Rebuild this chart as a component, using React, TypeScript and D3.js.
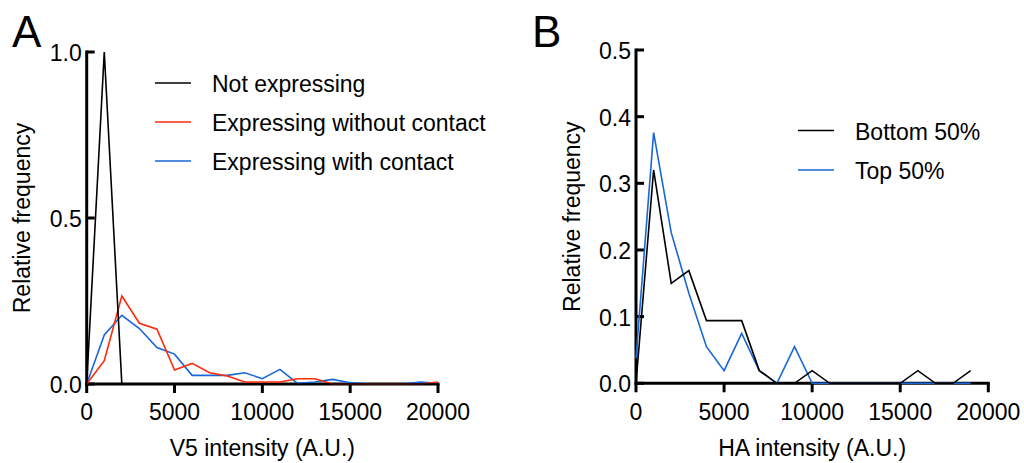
import React from 'react';
import * as d3 from 'd3';

// Panel A: V5 intensity histogram
const binsA = [0, 1000, 2000, 3000, 4000, 5000, 6000, 7000, 8000, 9000, 10000, 11000, 12000, 13000, 14000, 15000, 16000, 17000, 18000, 19000, 20000];
const notExpressing = [0, 1.0, 0, 0, 0, 0, 0, 0, 0, 0, 0, 0, 0, 0, 0, 0, 0, 0, 0, 0, 0];
const withoutContact = [0, 0.07, 0.265, 0.183, 0.165, 0.042, 0.062, 0.034, 0.024, 0.006, 0.006, 0.006, 0.016, 0.016, 0, 0, 0, 0, 0, 0, 0.006];
const withContact = [0, 0.148, 0.207, 0.167, 0.11, 0.09, 0.026, 0.026, 0.026, 0.034, 0.016, 0.044, 0.002, 0.006, 0.014, 0.004, 0, 0, 0, 0.006, 0.002];
const yTicksA = [0, 0.5, 1.0];

// Panel B: HA intensity histogram
const binsB = [0, 1000, 2000, 3000, 4000, 5000, 6000, 7000, 8000, 9000, 10000, 11000, 12000, 13000, 14000, 15000, 16000, 17000, 18000, 19000];
const bottom50 = [0, 0.32, 0.15, 0.169, 0.094, 0.094, 0.094, 0.019, 0, 0, 0.019, 0, 0, 0, 0, 0, 0.019, 0, 0, 0.019];
const top50 = [0.0375, 0.376, 0.226, 0.135, 0.055, 0.019, 0.075, 0.019, 0, 0.055, 0, 0, 0, 0, 0, 0, 0, 0, 0, 0];
const yTicksB = [0, 0.1, 0.2, 0.3, 0.4, 0.5];

const xTicks = [0, 5000, 10000, 15000, 20000];

const RED = '#ff2a0c';
const BLUE = '#1867d6';
const FONT = '"Liberation Sans", Arial, Helvetica, sans-serif';
const FS = 23;

type Series = { name: string; values: number[]; color: string };

const Panel = ({ letter, letterX, left, right, top, bottomY, yMax, yTicks, bins, series, xTitle, yLabelX, legendX, legendY, legendGap }: any) => {
  const x = d3.scaleLinear().domain([0, 20000]).range([left, right]);
  const y = d3.scaleLinear().domain([0, yMax]).range([bottomY, top]);
  const line = d3.line<number>().x((_, i) => x(bins[i])).y(d => y(d));

  return (
    <g fontFamily={FONT} fill="#000">
      <text x={letterX} y={47} fontSize={44}>{letter}</text>

      {/* axes */}
      <line x1={left} x2={left} y1={top - 1.5} y2={bottomY + 1.5} stroke="#000" strokeWidth={3} />
      <line x1={left - 1.5} x2={right + 1.5} y1={bottomY} y2={bottomY} stroke="#000" strokeWidth={3} />
      {yTicks.map((t: number) => (
        <g key={t}>
          <line x1={left} x2={left + 8} y1={y(t)} y2={y(t)} stroke="#000" strokeWidth={3} />
          <text x={left - 5} y={y(t) + 9} fontSize={FS} textAnchor="end">{t.toFixed(1)}</text>
        </g>
      ))}
      {xTicks.map(t => (
        <g key={t}>
          <line x1={x(t)} x2={x(t)} y1={bottomY} y2={bottomY + 9} stroke="#000" strokeWidth={3} />
          <text x={x(t)} y={420} fontSize={FS} textAnchor="middle">{t}</text>
        </g>
      ))}
      <text x={(left + right) / 2} y={456} fontSize={FS} textAnchor="middle">{xTitle}</text>
      <text transform={`translate(${yLabelX},${(top + bottomY) / 2}) rotate(-90)`} fontSize={FS} textAnchor="middle">Relative frequency</text>

      {/* data lines */}
      {series.map((s: Series) => (
        <path key={s.name} d={line(s.values) || ''} fill="none" stroke={s.color} strokeWidth={1.6} strokeLinejoin="miter" />
      ))}

      {/* legend */}
      {[...series].reverse().map((s: Series, i: number) => (
        <g key={s.name}>
          <line x1={legendX} x2={legendX + 36} y1={legendY + i * legendGap} y2={legendY + i * legendGap} stroke={s.color} strokeWidth={1.6} />
          <text x={legendX + 57} y={legendY + i * legendGap + 9} fontSize={FS}>{s.name}</text>
        </g>
      ))}
    </g>
  );
};

export default function App() {
  const seriesA: Series[] = [
    { name: 'Expressing with contact', values: withContact, color: BLUE },
    { name: 'Expressing without contact', values: withoutContact, color: RED },
    { name: 'Not expressing', values: notExpressing, color: '#000' },
  ];
  const seriesB: Series[] = [
    { name: 'Top 50%', values: top50, color: BLUE },
    { name: 'Bottom 50%', values: bottom50, color: '#000' },
  ];
  return (
    <svg width={1024} height={463} style={{ position: 'absolute', left: 0, top: 0, background: '#fff' }}>
      <Panel letter="A" letterX={12} left={86.7} right={438} top={52} bottomY={384} yMax={1.0} yTicks={yTicksA}
        bins={binsA} series={seriesA} xTitle="V5 intensity (A.U.)" yLabelX={30}
        legendX={155} legendY={83} legendGap={39} />
      <Panel letter="B" letterX={532} left={636} right={988.3} top={50} bottomY={383.3} yMax={0.5} yTicks={yTicksB}
        bins={binsB} series={seriesB} xTitle="HA intensity (A.U.)" yLabelX={580}
        legendX={798} legendY={130.5} legendGap={39.5} />
    </svg>
  );
}
